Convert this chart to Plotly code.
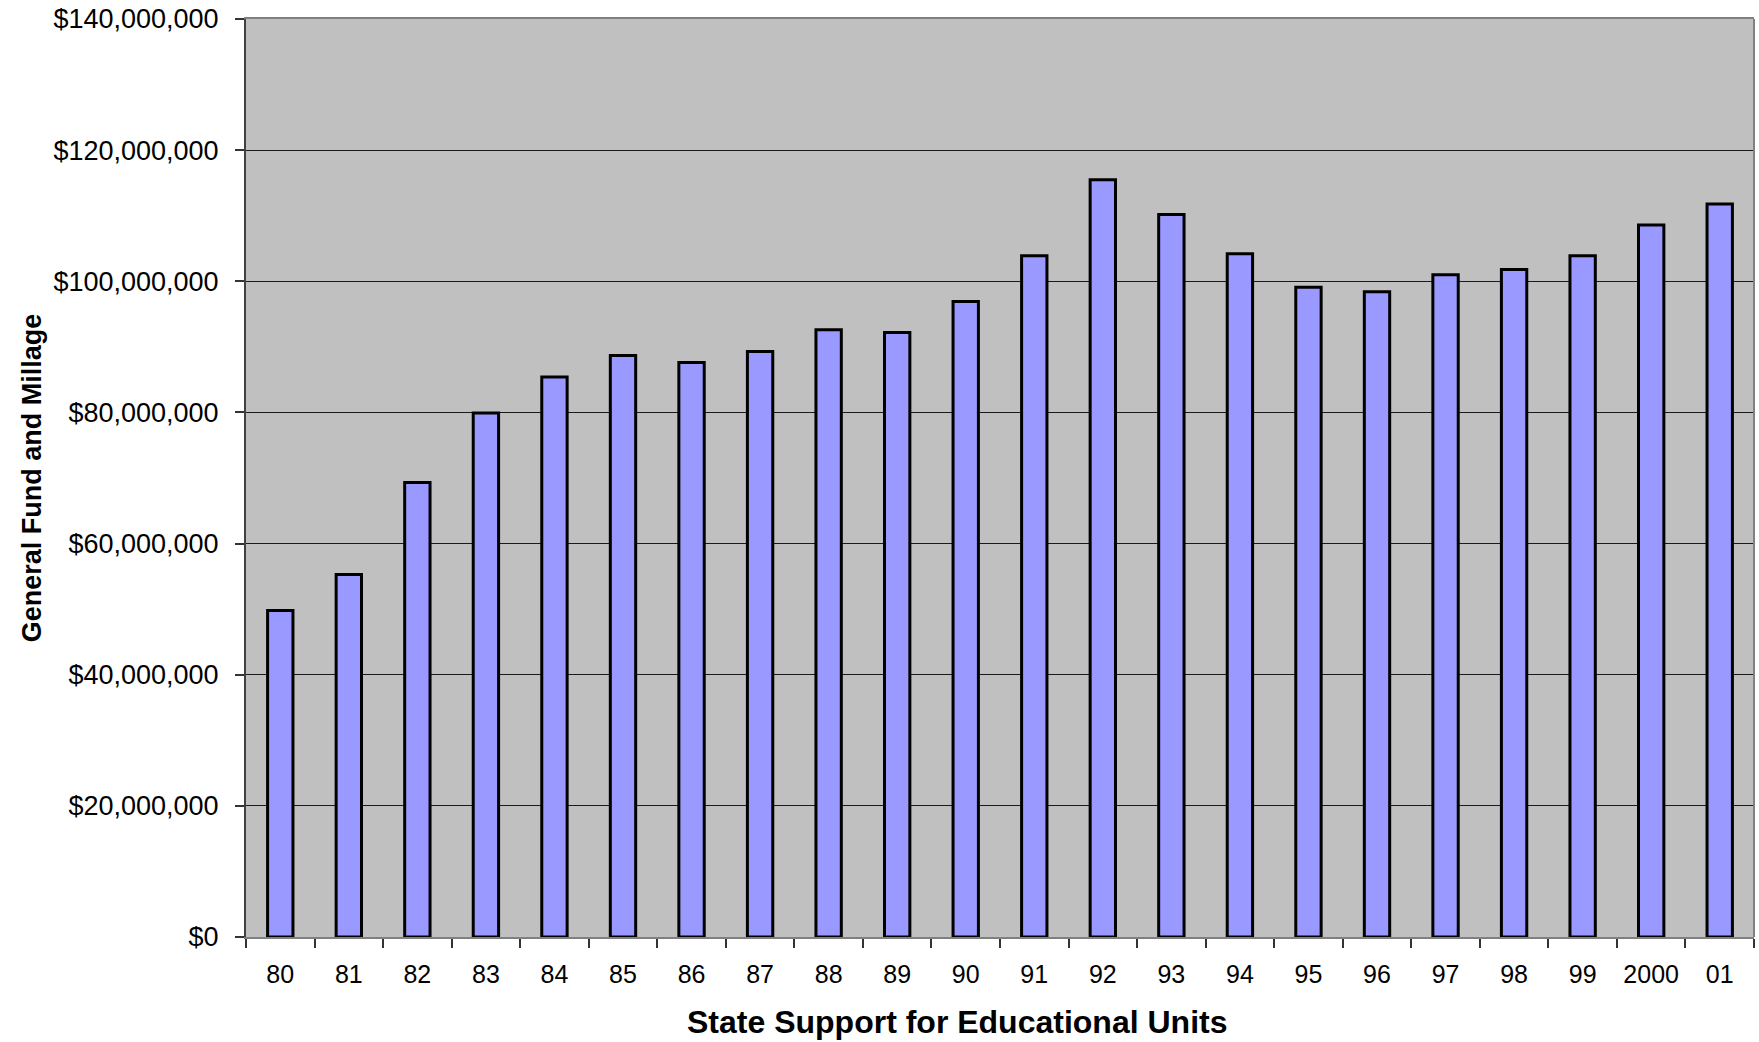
import plotly.graph_objects as go

years = ["80", "81", "82", "83", "84", "85", "86", "87", "88", "89", "90",
         "91", "92", "93", "94", "95", "96", "97", "98", "99", "2000", "01"]
funding = [49.8e6, 55.3e6, 69.3e6, 79.9e6, 85.4e6, 88.7e6, 87.6e6, 89.3e6,
           92.6e6, 92.2e6, 96.9e6, 103.9e6, 115.5e6, 110.2e6, 104.2e6, 99.1e6,
           98.4e6, 101.0e6, 101.8e6, 103.9e6, 108.6e6, 111.8e6]
y_ticks = [0, 20e6, 40e6, 60e6, 80e6, 100e6, 120e6, 140e6]
y_labels = ["$" + format(int(v), ",") for v in y_ticks]

FONT = "Liberation Sans, Arial, sans-serif"

fig = go.Figure(go.Bar(
    x=years, y=funding,
    marker=dict(color="#9999FF", line=dict(color="black", width=3)),
    width=0.37,
))

fig.update_layout(
    width=1759, height=1042,
    margin=dict(l=246, r=5, t=19, b=105),
    paper_bgcolor="white", plot_bgcolor="#C0C0C0",
    font=dict(family=FONT, color="black", size=26),
    showlegend=False,
)
fig.update_xaxes(
    type="category", automargin=False, tickangle=0,
    showline=True, linecolor="#808080", linewidth=2, mirror=True,
    ticks="outside", tickson="boundaries", ticklen=9, tickcolor="#333333",
    tickwidth=2, ticklabelstandoff=14,
    tickfont=dict(size=25),
    showgrid=False,
)
fig.update_yaxes(
    automargin=False, ticklabeloverflow="allow",
    range=[0, 140e6], tickvals=y_ticks, ticktext=y_labels,
    showline=True, linecolor="#404040", linewidth=2,
    ticks="outside", ticklen=9, tickcolor="#333333", tickwidth=2,
    ticklabelstandoff=11,
    tickfont=dict(size=27),
    showgrid=True, gridcolor="#1a1a1a", gridwidth=1,
    zeroline=False,
    title=dict(text="<b>General Fund and Millage</b>", font=dict(size=27),
               standoff=4),
)
fig.add_annotation(
    text="<b>State Support for Educational Units</b>",
    xref="paper", yref="paper", x=0.4715, y=-0.0926,
    xanchor="center", yanchor="middle", showarrow=False,
    font=dict(size=32, family=FONT, color="black"),
)
fig.add_shape(type="line", xref="paper", yref="paper", x0=1, x1=1, y0=0, y1=1,
              line=dict(color="#808080", width=2))

fig.write_html("out.html", config={"displayModeBar": False},
               post_script="document.body.style.margin='0';")
